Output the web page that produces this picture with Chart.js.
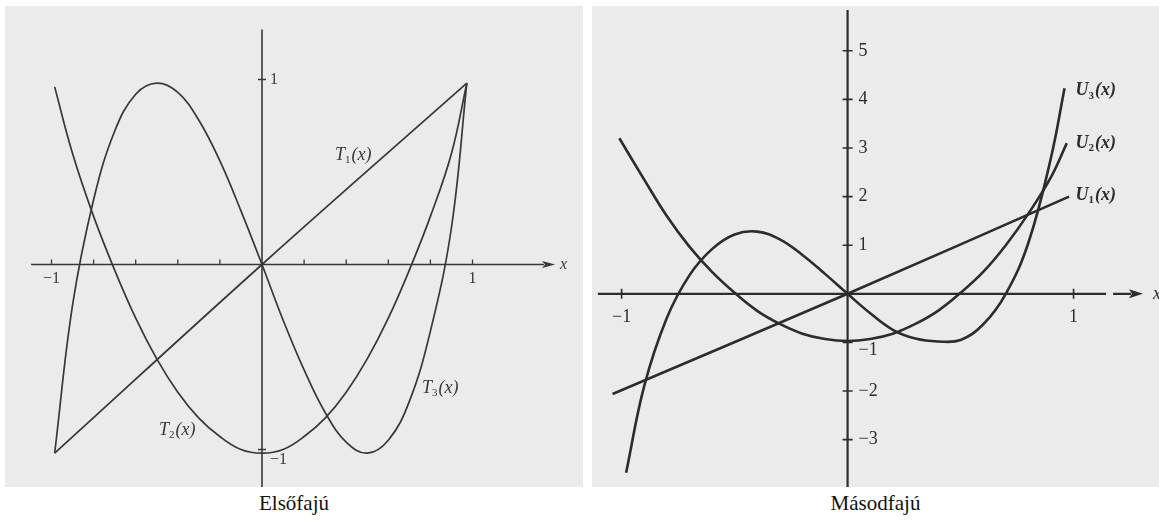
<!DOCTYPE html>
<html>
<head>
<meta charset="utf-8">
<script src="https://cdn.jsdelivr.net/npm/chart.js@4.4.0/dist/chart.umd.min.js"></script>
<style>
  body { margin: 0; background: #fff; width: 1159px; height: 524px; position: relative; overflow: hidden; }
  canvas { position: absolute; top: 6px; }
  #first { left: 5px; }
  #second { left: 592px; }
  .caption { position: absolute; top: 491px; font: 21px "Liberation Serif", serif; color: #111; text-align: center; }
</style>
</head>
<body>
<canvas id="first" width="578" height="481"></canvas>
<canvas id="second" width="567" height="481"></canvas>
<div class="caption" style="left:5px;width:578px">Elsőfajú</div>
<div class="caption" style="left:592px;width:567px">Másodfajú</div>
<script>
// Chebyshev polynomials of the first kind, T1..T3
const t1X = [-0.985, 0, 0.973];
const t1Y = [-1.02, 0, 0.98];
const tX = [-0.985, -0.9, -0.8, -0.7, -0.6, -0.5, -0.4, -0.3, -0.2, -0.1, 0,
            0.1, 0.2, 0.3, 0.4, 0.5, 0.6, 0.7, 0.8, 0.9, 0.973];
const t2Y = [0.96, 0.6, 0.26, -0.03, -0.29, -0.51, -0.69, -0.83, -0.93, -1.0, -1.02,
             -1.0, -0.93, -0.83, -0.69, -0.51, -0.29, -0.03, 0.26, 0.6, 0.98];
const t3Y = [-1.02, -0.22, 0.35, 0.72, 0.92, 0.98, 0.93, 0.78, 0.56, 0.29, 0,
             -0.3, -0.57, -0.8, -0.96, -1.02, -0.95, -0.74, -0.36, 0.2, 0.98];

// Chebyshev polynomials of the second kind, U1..U3
const u1X = [-1.04, 0, 0.98];
const u1Y = [-2.06, 0, 2.0];
const u2X = [-1.01, -0.9, -0.8, -0.7, -0.6, -0.5, -0.4, -0.3, -0.2, -0.1, 0,
             0.1, 0.2, 0.3, 0.4, 0.5, 0.6, 0.7, 0.8, 0.9, 0.97];
const u2Y = [3.2, 2.35, 1.6, 0.97, 0.45, 0.02, -0.35, -0.62, -0.82, -0.93, -0.97,
             -0.93, -0.82, -0.62, -0.35, 0.02, 0.45, 1.0, 1.65, 2.4, 3.1];
const u3X = [-0.98, -0.9, -0.8, -0.7, -0.6, -0.5, -0.4, -0.3, -0.2, -0.1, 0,
             0.1, 0.2, 0.3, 0.4, 0.5, 0.6, 0.7, 0.8, 0.9, 0.96];
const u3Y = [-3.68, -1.9, -0.5, 0.38, 0.92, 1.22, 1.28, 1.12, 0.8, 0.41, 0,
             -0.4, -0.74, -0.92, -0.98, -0.95, -0.63, 0, 1.05, 2.8, 4.23];

// axis ticks and their labels
const firstXTicks = [-1, -0.8, -0.6, -0.4, -0.2, 0.2, 0.4, 0.6, 0.8, 1];
const firstXLabels = [[-1, '−1'], [1, '1']];
const firstYTicks = [1, -1];
const firstYLabels = [[1, '1'], [-1, '−1']];
const secondXTicks = [-1, 1];
const secondXLabels = [[-1, '−1'], [1, '1']];
const secondYTicks = [-3, -2, -1, 1, 2, 3, 4, 5];
const secondYLabels = [[5, '5'], [4, '4'], [3, '3'], [2, '2'], [1, '1'], [-1, '−1'], [-2, '−2'], [-3, '−3']];

const SERIF = '"Liberation Serif", "Times New Roman", serif';

function pts(xs, ys) {
  return xs.map((x, i) => ({ x, y: ys[i] }));
}

function line(xs, ys, color, width) {
  return {
    data: pts(xs, ys),
    borderColor: color,
    borderWidth: width,
    pointRadius: 0,
    fill: false,
    tension: 0.4
  };
}

// italic name + subscript + "(x)"
function curveLabel(ctx, px, py, name, sub, size, bold) {
  const w8 = bold ? 'bold ' : '';
  ctx.textAlign = 'left';
  ctx.textBaseline = 'middle';
  ctx.font = `italic ${w8}${size}px ${SERIF}`;
  ctx.fillText(name, px, py);
  let w = ctx.measureText(name).width;
  ctx.font = `${w8}${Math.round(size * 0.62)}px ${SERIF}`;
  ctx.fillText(sub, px + w, py + size * 0.28);
  w += ctx.measureText(sub).width;
  ctx.font = `italic ${w8}${size}px ${SERIF}`;
  ctx.fillText('(x)', px + w + 1, py);
}

function axesPlugin(st) {
  return {
    id: 'axes',
    beforeDraw(chart) {
      const { ctx, width, height } = chart;
      ctx.save();
      ctx.fillStyle = st.bg;
      ctx.fillRect(0, 0, width, height);
      ctx.restore();
    },
    beforeDatasetsDraw(chart) {
      const { ctx, height, scales: { x, y } } = chart;
      const x0 = x.getPixelForValue(0);
      const y0 = y.getPixelForValue(0);
      ctx.save();
      ctx.strokeStyle = st.color;
      ctx.fillStyle = st.color;
      ctx.lineWidth = st.axisWidth;

      // horizontal axis, optionally broken before the arrow
      const xa = x.getPixelForValue(st.xFrom);
      const xTip = x.getPixelForValue(st.xTo);
      ctx.beginPath();
      if (st.gap) {
        const g0 = x.getPixelForValue(st.gap[0]);
        const g1 = x.getPixelForValue(st.gap[1]);
        ctx.moveTo(xa, y0); ctx.lineTo(g0, y0);
        ctx.moveTo(g1, y0); ctx.lineTo(xTip - st.arrow[0] + 2, y0);
      } else {
        ctx.moveTo(xa, y0); ctx.lineTo(xTip - st.arrow[0] + 2, y0);
      }
      ctx.stroke();
      ctx.beginPath();
      ctx.moveTo(xTip, y0);
      ctx.lineTo(xTip - st.arrow[0], y0 - st.arrow[1]);
      ctx.lineTo(xTip - st.arrow[0] + 3, y0);
      ctx.lineTo(xTip - st.arrow[0], y0 + st.arrow[1]);
      ctx.closePath();
      ctx.fill();

      // vertical axis
      ctx.beginPath();
      ctx.moveTo(x0, y.getPixelForValue(st.yTop));
      ctx.lineTo(x0, height);
      ctx.stroke();

      // tick marks
      ctx.lineWidth = st.tickWidth;
      ctx.beginPath();
      st.xTicks.forEach(v => {
        const p = x.getPixelForValue(v);
        ctx.moveTo(p, y0 - st.xTickUp);
        ctx.lineTo(p, y0 + st.xTickDown);
      });
      st.yTicks.forEach(v => {
        const p = y.getPixelForValue(v);
        ctx.moveTo(x0 - st.yTick, p);
        ctx.lineTo(x0 + st.yTick, p);
      });
      ctx.stroke();

      // tick labels
      ctx.font = `${st.tickFont}px ${SERIF}`;
      ctx.textBaseline = 'middle';
      ctx.textAlign = 'center';
      st.xLabels.forEach(([v, s]) => {
        ctx.fillText(s, x.getPixelForValue(v), y0 + st.xLabelDy);
      });
      ctx.textAlign = 'left';
      st.yLabels.forEach(([v, s]) => {
        const dy = v === -1 ? st.minusOneDy : 0;
        ctx.fillText(s, x0 + st.yLabelDx, y.getPixelForValue(v) + dy);
      });
      ctx.font = `italic ${st.tickFont}px ${SERIF}`;
      ctx.fillText('x', xTip + st.xNameDx, y0);
      ctx.restore();
    },
    afterDatasetsDraw(chart) {
      const { ctx, scales: { x, y } } = chart;
      ctx.save();
      ctx.fillStyle = st.color;
      st.curveLabels.forEach(([vx, vy, name, sub]) => {
        curveLabel(ctx, x.getPixelForValue(vx), y.getPixelForValue(vy), name, sub, st.labelFont, st.bold);
      });
      ctx.restore();
    }
  };
}

function makeChart(id, datasets, range, st) {
  return new Chart(document.getElementById(id), {
    type: 'line',
    data: { datasets },
    options: {
      responsive: false,
      animation: false,
      events: [],
      layout: { padding: 0 },
      plugins: { legend: { display: false }, tooltip: { enabled: false } },
      scales: {
        x: { type: 'linear', display: false, min: range[0], max: range[1] },
        y: { type: 'linear', display: false, min: range[2], max: range[3] }
      }
    },
    plugins: [axesPlugin(st)]
  });
}

const ink1 = '#383838';
makeChart('first', [
  line(t1X, t1Y, ink1, 1.7),
  line(tX, t2Y, ink1, 1.7),
  line(tX, t3Y, ink1, 1.7)
], [-1.2209, 1.5249, -1.2027, 1.3973], {
  bg: '#ebebeb', color: ink1, axisWidth: 1.6, tickWidth: 1.3,
  xFrom: -1.097, xTo: 1.392, gap: null, arrow: [13, 3.5], yTop: 1.27,
  xTicks: firstXTicks, yTicks: firstYTicks, xTickUp: 5, xTickDown: 0, yTick: 4,
  xLabels: firstXLabels, yLabels: firstYLabels, tickFont: 16,
  xLabelDy: 14, yLabelDx: 8, minusOneDy: 10, xNameDx: 5,
  curveLabels: [[0.347, 0.59, 'T', '1'], [-0.489, -0.895, 'T', '2'], [0.76, -0.67, 'T', '3']],
  labelFont: 18, bold: false
});

const ink2 = '#2c2c2c';
makeChart('second', [
  line(u1X, u1Y, ink2, 2.6),
  line(u2X, u2Y, ink2, 2.6),
  line(u3X, u3Y, ink2, 2.6)
], [-1.131, 1.378, -3.975, 5.922], {
  bg: '#ebebeb', color: ink2, axisWidth: 2.2, tickWidth: 1.6,
  xFrom: -1.105, xTo: 1.307, gap: [1.144, 1.175], arrow: [14, 4.5], yTop: 5.84,
  xTicks: secondXTicks, yTicks: secondYTicks, xTickUp: 5, xTickDown: 5, yTick: 5,
  xLabels: secondXLabels, yLabels: secondYLabels, tickFont: 18,
  xLabelDy: 23, yLabelDx: 11, minusOneDy: 8, xNameDx: 10,
  curveLabels: [[1.008, 4.18, 'U', '3'], [1.008, 3.10, 'U', '2'], [1.008, 2.03, 'U', '1']],
  labelFont: 18, bold: true
});
</script>
</body>
</html>
